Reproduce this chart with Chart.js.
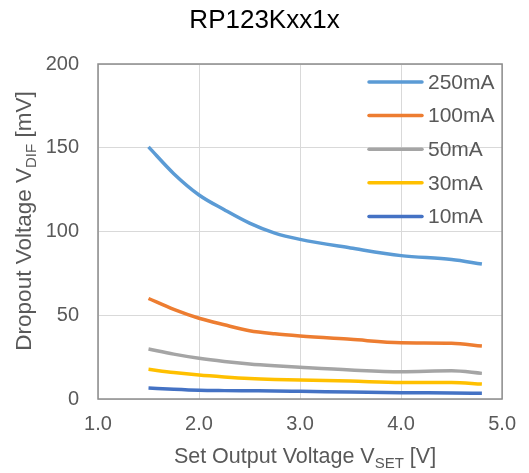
<!DOCTYPE html>
<html>
<head>
<meta charset="utf-8">
<script src="https://cdn.jsdelivr.net/npm/chart.js@4/dist/chart.umd.min.js"></script>
<style>
  html, body { margin: 0; padding: 0; background: #fff; }
  #wrap { width: 529px; height: 473px; position: relative; }
</style>
</head>
<body>
<div id="wrap"><canvas id="chart"></canvas></div>
<script>
// Set output voltage [V]
const vset = [1.5, 1.75, 2.0, 2.25, 2.5, 2.75, 3.0, 3.5, 4.0, 4.5, 4.8];

// Dropout voltage [mV] per load current
const drop250 = [150.5, 134.5, 121.8, 113.0, 105.0, 99.0, 95.3, 90.2, 85.6, 83.3, 80.6];
const drop100 = [60.0, 53.5, 48.2, 44.3, 40.8, 38.9, 37.6, 35.6, 33.6, 33.3, 31.6];
const drop50  = [29.8, 26.8, 24.3, 22.4, 20.9, 19.8, 18.9, 17.3, 16.3, 16.8, 15.3];
const drop30  = [17.7, 15.8, 14.3, 13.2, 12.3, 11.7, 11.3, 10.7, 9.9, 9.9, 8.9];
const drop10  = [6.6, 5.8, 5.2, 5.0, 4.9, 4.8, 4.6, 4.2, 3.8, 3.6, 3.4];

const seriesLabels = ['250mA', '100mA', '50mA', '30mA', '10mA'];
const seriesColors = ['#5B9BD5', '#ED7D31', '#A5A5A5', '#FFC000', '#4472C4'];
const seriesValues = [drop250, drop100, drop50, drop30, drop10];

const xTicks = [1.0, 2.0, 3.0, 4.0, 5.0];
const yTicks = [0, 50, 100, 150, 200];

const textGray = '#595959';
const fontFamily = '"Liberation Sans", Arial, sans-serif';

// text with a subscript in the middle: [main, sub, tail], centred on cx,cy
function drawSub(ctx, parts, size, cx, cy) {
    const [a, b, c] = parts;
    const big = size + 'px ' + fontFamily;
    const small = Math.round(size * 0.68) + 'px ' + fontFamily;
    ctx.font = big;
    const wa = ctx.measureText(a).width;
    const wc = ctx.measureText(c).width;
    ctx.font = small;
    const wb = ctx.measureText(b).width;
    let x = cx - (wa + wb + wc) / 2;
    ctx.textBaseline = 'middle';
    ctx.textAlign = 'left';
    ctx.fillStyle = textGray;
    ctx.font = big;
    ctx.fillText(a, x, cy);
    x += wa;
    ctx.font = small;
    ctx.fillText(b, x, cy + size * 0.3);
    x += wb;
    ctx.font = big;
    ctx.fillText(c, x, cy);
}

const extrasPlugin = {
    id: 'extras',
    beforeDatasetsDraw(chart) {
        const { ctx, chartArea } = chart;
        ctx.save();
        ctx.strokeStyle = '#8c8c8c';
        ctx.lineWidth = 1.5;
        ctx.strokeRect(chartArea.left, chartArea.top, chartArea.right - chartArea.left, chartArea.bottom - chartArea.top);
        ctx.restore();
    },
    afterDraw(chart) {
        const { ctx } = chart;
        ctx.save();

        // axis titles
        drawSub(ctx, ['Set Output Voltage V', 'SET', ' [V]'], 21.5, 305, 457);
        ctx.translate(25, 221);
        ctx.rotate(-Math.PI / 2);
        drawSub(ctx, ['Dropout Voltage V', 'DIF', ' [mV]'], 22.5, 0, 0);
        ctx.setTransform(1, 0, 0, 1, 0, 0);

        // legend inside the plot
        const lx = 369, rowH = 33.6;
        chart.data.datasets.forEach((ds, i) => {
            const y = 82 + i * rowH;
            ctx.strokeStyle = ds.borderColor;
            ctx.lineWidth = 3.5;
            ctx.lineCap = 'round';
            ctx.beginPath();
            ctx.moveTo(lx, y);
            ctx.lineTo(lx + 53, y);
            ctx.stroke();
            ctx.fillStyle = textGray;
            ctx.font = '21px ' + fontFamily;
            ctx.textAlign = 'left';
            ctx.textBaseline = 'middle';
            ctx.fillText(ds.label, lx + 59, y + 1);
        });
        ctx.restore();
    }
};

const datasets = seriesLabels.map((label, i) => ({
    label: label,
    data: vset.map((v, j) => ({ x: v, y: seriesValues[i][j] })),
    borderColor: seriesColors[i],
    backgroundColor: seriesColors[i],
    borderWidth: 3.5,
    pointRadius: 0,
    cubicInterpolationMode: 'monotone',
    fill: false
}));

new Chart(document.getElementById('chart'), {
    type: 'line',
    data: { datasets: datasets },
    options: {
        responsive: true,
        maintainAspectRatio: false,
        animation: false,
        layout: { padding: { left: 23, right: 23, top: 0, bottom: 0 } },
        plugins: {
            legend: { display: false },
            tooltip: { enabled: false },
            title: {
                display: true,
                text: 'RP123Kxx1x',
                color: '#000',
                font: { family: fontFamily, size: 26, weight: 'normal', lineHeight: 1.2 },
                padding: { top: 5, bottom: 27.8 }
            }
        },
        scales: {
            x: {
                type: 'linear',
                min: 1.0,
                max: 5.0,
                afterBuildTicks: (s) => { s.ticks = xTicks.map(v => ({ value: v })); },
                afterFit: (s) => { s.height = 74; },
                border: { display: false },
                grid: { color: '#d9d9d9', lineWidth: 1, drawTicks: false },
                ticks: {
                    color: textGray,
                    padding: 13,
                    font: { family: fontFamily, size: 20 },
                    callback: (v) => Number(v).toFixed(1)
                }
            },
            y: {
                min: 0,
                max: 200,
                afterBuildTicks: (s) => { s.ticks = yTicks.map(v => ({ value: v })); },
                afterFit: (s) => { s.width = 75; },
                border: { display: false },
                grid: { color: '#d9d9d9', lineWidth: 1, drawTicks: false },
                ticks: {
                    color: textGray,
                    padding: 19,
                    font: { family: fontFamily, size: 20 }
                }
            }
        }
    },
    plugins: [extrasPlugin]
});
</script>
</body>
</html>
